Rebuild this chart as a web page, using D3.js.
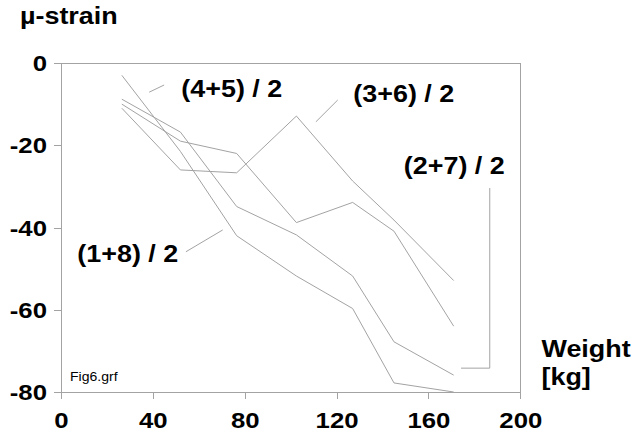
<!DOCTYPE html>
<html>
<head>
<meta charset="utf-8">
<script src="https://cdn.jsdelivr.net/npm/d3@7"></script>
<style>
  html, body { margin: 0; padding: 0; background: #fff; }
  svg { display: block; }
  text { font-family: "Liberation Sans", Arial, sans-serif; fill: #000; }
</style>
</head>
<body>
<svg id="chart" width="635" height="439"></svg>
<script>
// Applied load (kg) at each measurement step
const weights = [26.5, 52, 76.5, 102.5, 127, 145, 171];

// Averaged gauge pairs, micro-strain
const pair18 = [-3, -21.5, -42, -51.8, -59.7, -77.8, -80];
const pair27 = [-8.8, -16.8, -34.9, -41.8, -51.8, -67.8, -75.9];
const pair45 = [-10, -19, -22, -38.8, -33.9, -40.9, -64];
const pair36 = [-11, -26, -26.7, -12.9, -28.7, -38.2, -52.9];

const seriesNames = ["(1+8) / 2", "(2+7) / 2", "(4+5) / 2", "(3+6) / 2"];
const seriesValues = [pair18, pair27, pair45, pair36];

const xTicks = [0, 40, 80, 120, 160, 200];
const yTicks = [0, -20, -40, -60, -80];

// Label placement and leader lines, in data units
const labels = [
  { text: "(4+5) / 2", x: 52.4, y: -8.2, leader: [[38.4, -7.1], [44.9, -5.35]] },
  { text: "(3+6) / 2", x: 127.3, y: -9.4, leader: [[111.0, -14.3], [120.5, -9.0]] },
  { text: "(2+7) / 2", x: 149.3, y: -27.0, leader: [[186.7, -30.4], [186.7, -74.2], [174.2, -74.2]] },
  { text: "(1+8) / 2", x: 7.1, y: -48.5, leader: [[54.4, -45.9], [70.4, -40.6]] }
];

const stretch = 1.17;       // wide bold lettering
const grey = "#a3a3a3";

const svg = d3.select("#chart");
const plot = { left: 61, right: 520.3, top: 63, bottom: 392 };

const x = d3.scaleLinear().domain([0, 200]).range([plot.left, plot.right]);
const y = d3.scaleLinear().domain([0, -80]).range([plot.top, plot.bottom]);

// Frame around the plotting area
svg.append("rect")
  .attr("x", plot.left).attr("y", plot.top)
  .attr("width", plot.right - plot.left).attr("height", plot.bottom - plot.top)
  .attr("fill", "none").attr("stroke", grey).attr("stroke-width", 1)
  .attr("shape-rendering", "crispEdges");

// Axes (plain hyphen for negative numbers)
const fmt = d => String(d);
const yAxis = svg.append("g")
  .attr("transform", `translate(${plot.left},0)`)
  .call(d3.axisLeft(y).tickValues(yTicks).tickSize(7).tickPadding(5).tickFormat(fmt));
const xAxis = svg.append("g")
  .attr("transform", `translate(0,${plot.bottom})`)
  .call(d3.axisBottom(x).tickValues(xTicks).tickSize(7).tickPadding(13.4).tickFormat(fmt));

[yAxis, xAxis].forEach(g => {
  g.select(".domain").remove();
  g.selectAll(".tick line").attr("stroke", grey).attr("shape-rendering", "crispEdges");
  g.selectAll(".tick text")
    .attr("font-family", "'Liberation Sans', Arial, sans-serif")
    .attr("font-size", 22).attr("font-weight", "bold").attr("fill", "#000")
    .attr("transform", `scale(${stretch},1)`);
});
yAxis.selectAll(".tick text").attr("x", -12).attr("dy", "0.35em");

// Data lines
const line = d3.line().x((d, i) => x(weights[i])).y(d => y(d));
svg.append("g").selectAll("path")
  .data(seriesValues)
  .join("path")
  .attr("d", d => line(d))
  .attr("fill", "none")
  .attr("stroke", grey)
  .attr("stroke-width", 1)
  .attr("stroke-linejoin", "miter");

// Series labels with leader lines
const leader = d3.line().x(d => x(d[0])).y(d => y(d[1]));
labels.forEach(l => {
  svg.append("path")
    .attr("d", leader(l.leader))
    .attr("fill", "none").attr("stroke", grey).attr("stroke-width", 1);
  svg.append("text")
    .attr("transform", `translate(${x(l.x)},${y(l.y)}) scale(${stretch},1)`)
    .attr("font-size", 23).attr("font-weight", "bold")
    .text(l.text);
});

// Axis titles
function addText(str, px, py, size, weight) {
  svg.append("text")
    .attr("transform", `translate(${px},${py}) scale(${stretch},1)`)
    .attr("font-size", size).attr("font-weight", weight)
    .text(str);
}
addText("µ-strain", 20, 23.5, 23, "bold");
addText("Weight", 541.5, 356.7, 23, "bold");
addText("[kg]", 541.5, 385, 23, "bold");
addText("Fig6.grf", 70, 380.5, 12, "normal");
</script>
</body>
</html>
